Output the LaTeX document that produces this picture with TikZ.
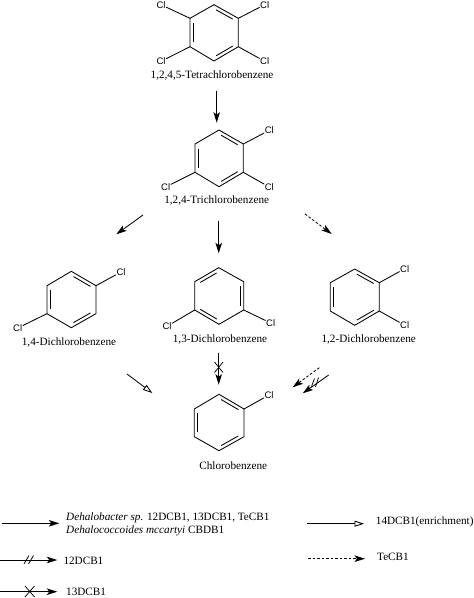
\documentclass[tikz,border=0pt]{standalone}
\usepackage{fontspec}
\setmainfont{Liberation Serif}
\newfontfamily\clfont{Liberation Sans}
\usetikzlibrary{arrows.meta,calc}
\tikzset{
  x=1pt,y=-1pt,
  bond/.style={line width=0.85pt,line cap=round},
  dblbond/.style={line width=0.85pt,shorten >=2.5pt,shorten <=2.5pt},
  atom/.style={font=\clfont\fontsize{9.5}{10}\selectfont,inner sep=0.6pt,text=black},
  chemlabel/.style={font=\fontsize{11.2}{12.4}\selectfont,inner sep=0pt},
  legendtext/.style={font=\fontsize{11.2}{12.4}\selectfont,inner sep=0pt,anchor=west,align=left},
  rx/.style={line width=0.85pt,-{Stealth[length=10.5pt,width=6.5pt,inset=2.5pt]}},
  rxo/.style={line width=0.85pt,-{Triangle[length=9.5pt,width=6pt,open,fill=white]}},
  rxd/.style={rx,dash pattern=on 2.5pt off 2pt},
  crossmark/.style={line width=0.75pt}
}
\newcommand{\dbl}[3]{\draw[dblbond] ($(#1)!0.14!(#3)$)--($(#2)!0.14!(#3)$);}
% ring: prefix, 6 vertices clockwise from top, centre
\newcommand{\ring}[8]{%
  \coordinate (#1t) at (#2);\coordinate (#1ur) at (#3);\coordinate (#1lr) at (#4);
  \coordinate (#1b) at (#5);\coordinate (#1ll) at (#6);\coordinate (#1ul) at (#7);
  \coordinate (#1c) at (#8);
  \draw[bond] (#1t)--(#1ur)--(#1lr)--(#1b)--(#1ll)--(#1ul)--cycle;
}
\begin{document}
\begin{tikzpicture}
\useasboundingbox (0,0) rectangle (474,598);
% Tetrachlorobenzene
\ring{a}{214,4.7}{238.3,18.3}{238.3,46.7}{214,61}{190,46.7}{190,18.3}{214,32.8}
\dbl{at}{aur}{ac}\dbl{alr}{ab}{ac}\dbl{all}{aul}{ac}
\node[atom] (a1) at (161,4.7) {Cl};
\node[atom] (a2) at (264.7,4.7) {Cl};
\node[atom] (a3) at (161,61.3) {Cl};
\node[atom] (a4) at (264.7,61.3) {Cl};
\draw[bond] (a1)--(aul);\draw[bond] (a2)--(aur);\draw[bond] (a3)--(all);\draw[bond] (a4)--(alr);
\node[chemlabel] (an) at (212,75.3) {1,2,4,5-Tetrachlorobenzene};
% Trichlorobenzene
\ring{b}{219,130}{243.3,144}{243.3,172.3}{219,186.7}{195,172.3}{195,144}{219,158.3}
\dbl{bt}{bur}{bc}\dbl{blr}{bb}{bc}\dbl{bll}{bul}{bc}
\node[atom] (b1) at (269.3,130.3) {Cl};
\node[atom] (b2) at (269.3,187) {Cl};
\node[atom] (b3) at (165.7,187) {Cl};
\draw[bond] (b1)--(bur);\draw[bond] (b2)--(blr);\draw[bond] (b3)--(bll);
\node[chemlabel] (bn) at (216.7,200.7) {1,2,4-Trichlorobenzene};
% 1,4
\ring{c}{71.3,271.3}{96,285.7}{96,313.7}{71.3,327.7}{47,313.7}{47,285.7}{71.5,299.7}
\dbl{ct}{cur}{cc}\dbl{clr}{cb}{cc}\dbl{cll}{cul}{cc}
\node[atom] (c1) at (121,272) {Cl};
\node[atom] (c2) at (17.7,328) {Cl};
\draw[bond] (c1)--(cur);\draw[bond] (c2)--(cll);
\node[chemlabel] (cn) at (69,342) {1,4-Dichlorobenzene};
% 1,3
\ring{d}{218.7,267.7}{243.7,281.7}{243.7,310}{219,324.3}{194.7,310}{194.7,281.7}{219.2,296}
\dbl{dt}{dul}{dc}\dbl{dur}{dlr}{dc}\dbl{db}{dll}{dc}
\node[atom] (d1) at (167,326.3) {Cl};
\node[atom] (d2) at (270.7,323) {Cl};
\draw[bond] (d1)--(dll);\draw[bond] (d2)--(dlr);
\node[chemlabel] (dn) at (220,339.7) {1,3-Dichlorobenzene};
% 1,2
\ring{e}{354.7,269}{379.3,282.7}{379.3,311}{354.7,325.3}{330.3,311}{330.3,282.7}{354.8,297}
\dbl{et}{eur}{ec}\dbl{elr}{eb}{ec}\dbl{ell}{eul}{ec}
\node[atom] (e1) at (404.7,268.7) {Cl};
\node[atom] (e2) at (404.7,325.3) {Cl};
\draw[bond] (e1)--(eur);\draw[bond] (e2)--(elr);
\node[chemlabel] (en) at (368.7,339.3) {1,2-Dichlorobenzene};
% Chloro
\ring{f}{219,394.3}{244,409}{244,436.7}{219,450.7}{194.3,436.7}{194.3,409}{219,422.5}
\dbl{ft}{fur}{fc}\dbl{flr}{fb}{fc}\dbl{fll}{ful}{fc}
\node[atom] (f1) at (269,395) {Cl};
\draw[bond] (f1)--(fur);
\node[chemlabel] (fn) at (233.3,465.7) {Chlorobenzene};
% Reaction arrows
\coordinate (r1s) at (216.7,90.7);\coordinate (r1e) at (216.7,122.7);
\draw[rx] (r1s)--(r1e);
\coordinate (r2s) at (143,215);\coordinate (r2e) at (116.3,234.3);
\draw[rx] (r2s)--(r2e);
\coordinate (r3s) at (218.7,220.7);\coordinate (r3e) at (218.7,253.3);
\draw[rx] (r3s)--(r3e);
\coordinate (r4s) at (305,214);\coordinate (r4e) at (331.7,234);
\draw[rxd] (r4s)--(r4e);
\coordinate (r5s) at (127,374);\coordinate (r5e) at (152.3,393);
\draw[rxo] (r5s)--(r5e);
\coordinate (r6s) at (218.7,352.7);\coordinate (r6e) at (218.7,384.7);
\draw[rx] (r6s)--(r6e);
\draw[crossmark] (214.5,362)--(223,372.5) (223,362)--(214.5,372.5);
\coordinate (r7s) at (319.3,367.7);\coordinate (r7e) at (292.7,387.3);
\draw[rxd] (r7s)--(r7e);
\coordinate (r8s) at (328.7,375);\coordinate (r8e) at (302.7,393.3);
\draw[rx] (r8s)--(r8e);
\draw[crossmark] (311.5,386.5)--(314.5,378.5) (315.5,387)--(318.5,377.5);
% Legend
\coordinate (l1s) at (2,523.3);\coordinate (l1e) at (59.3,523.3);
\draw[rx] (l1s)--(l1e);
\node[legendtext] (l1) at (66,524.5) {\textit{Dehalobacter sp.} 12DCB1, 13DCB1, TeCB1\\\textit{Dehalococcoides mccartyi} CBDB1};
\coordinate (l2s) at (307,523.7);\coordinate (l2e) at (364,523.7);
\draw[rxo] (l2s)--(l2e);
\node[legendtext] (l2) at (375.7,521.7) {14DCB1(enrichment)};
\coordinate (l3s) at (0,560);\coordinate (l3e) at (57.3,560);
\draw[rx] (l3s)--(l3e);
\draw[crossmark] (24,564)--(29,555.5) (28.5,564)--(33.5,555.5);
\node[legendtext] (l3) at (63.3,561) {12DCB1};
\coordinate (l4s) at (308,558.7);\coordinate (l4e) at (365,558.7);
\draw[rxd] (l4s)--(l4e);
\node[legendtext] (l4) at (377,556.7) {TeCB1};
\coordinate (l5s) at (0,591.7);\coordinate (l5e) at (57.3,591.7);
\draw[rx] (l5s)--(l5e);
\draw[crossmark] (25,586)--(34.5,597) (34.5,586)--(25,597);
\node[legendtext] (l5) at (66,591.7) {13DCB1};
\end{tikzpicture}
\end{document}
